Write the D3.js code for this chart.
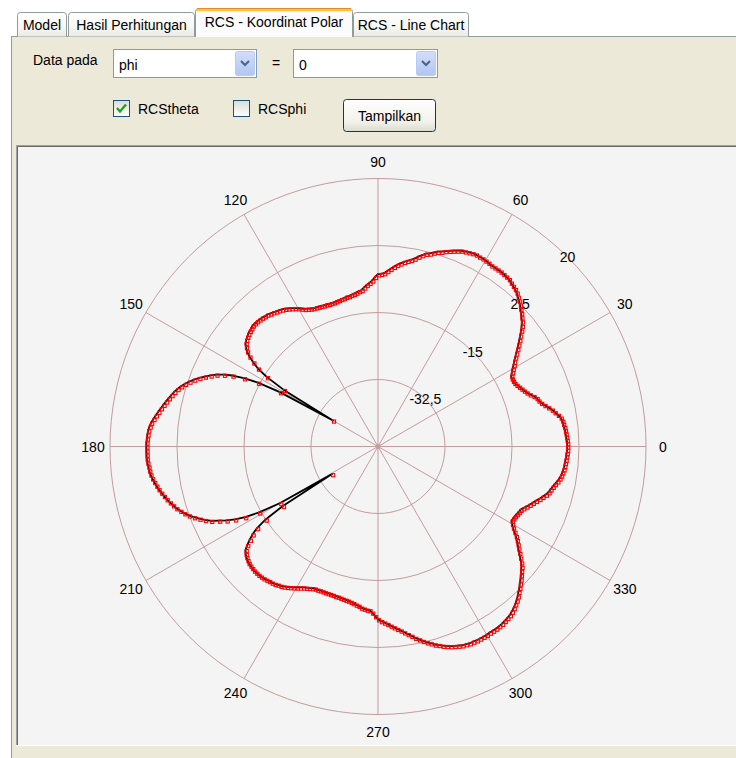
<!DOCTYPE html>
<html>
<head>
<meta charset="utf-8">
<script src="https://cdn.jsdelivr.net/npm/d3@7/dist/d3.min.js"></script>
<style>
  html, body { margin: 0; padding: 0; background: #ffffff; overflow: hidden; }
  svg { display: block; font-family: "Liberation Sans", Arial, sans-serif; }
</style>
</head>
<body>
<svg id="app" width="736" height="758"></svg>
<script>
// ---- data -------------------------------------------------------------
const tabNames = ["Model", "Hasil Perhitungan", "RCS - Koordinat Polar", "RCS - Line Chart"];
const activeTab = 2;
const dataAxisOptions = ["phi"];
const dataAxisValue = ["0"];
const seriesNames = ["RCStheta", "RCSphi"];
const seriesChecked = [true, false];

// observation angle phi (degrees), one sample per degree
const phiDeg = d3.range(0, 360);
// RCS theta-polarisation (dB) for each phi sample
const rcsTheta = [
  -0.6, -0.6, -0.7, -0.8, -0.9, -1.0, -1.1, -1.3, -1.4, -1.7,
  -2.3, -3.0, -3.6, -4.4, -5.2, -5.9, -6.4, -6.7, -7.3, -8.1,
  -8.7, -9.2, -9.6, -10.0, -10.4, -10.7, -10.8, -10.8, -10.6, -10.0,
  -9.4, -8.7, -8.1, -7.3, -6.5, -5.6, -4.7, -3.8, -2.9, -1.9,
  -1.0, -0.2, 0.4, 1.1, 1.7, 2.4, 3.0, 3.5, 4.1, 4.5,
  4.8, 5.1, 5.5, 5.6, 5.7, 5.8, 5.8, 5.8, 5.8, 6.0,
  6.1, 6.2, 6.2, 6.3, 6.2, 6.0, 5.8, 5.6, 5.2, 4.8,
  4.4, 4.0, 3.5, 3.2, 2.7, 2.2, 1.9, 1.3, 0.7, 0.0,
  -0.5, -0.9, -1.3, -1.8, -2.3, -2.9, -3.5, -4.1, -4.7, -4.9,
  -5.0, -5.7, -6.6, -7.2, -7.7, -8.3, -8.9, -9.1, -9.4, -9.6,
  -9.8, -10.0, -10.0, -10.2, -10.3, -10.4, -10.5, -10.6, -10.6, -10.6,
  -10.5, -10.5, -10.4, -10.3, -10.2, -10.1, -9.9, -9.6, -9.3, -8.8,
  -8.3, -7.8, -7.4, -7.0, -6.6, -6.3, -6.0, -5.8, -5.5, -5.3,
  -5.0, -4.9, -4.7, -4.6, -4.5, -4.5, -4.5, -4.7, -4.9, -5.1,
  -5.4, -5.7, -6.1, -6.8, -7.7, -9.0, -10.7, -12.6, -15.8, -21.3,
  -36.4, -20.7, -14.5, -10.7, -7.7, -5.6, -3.8, -2.5, -1.2, 0.0,
  1.1, 2.1, 3.0, 3.8, 4.5, 5.1, 5.6, 6.1, 6.6, 7.1,
  7.6, 8.1, 8.6, 9.1, 9.6, 9.9, 10.2, 10.3, 10.4, 10.5,
  10.5, 10.5, 10.5, 10.5, 10.4, 10.2, 10.1, 9.9, 9.6, 9.2,
  8.8, 8.4, 7.9, 7.4, 6.9, 6.3, 5.7, 5.1, 4.3, 3.5,
  2.6, 1.5, 0.3, -0.9, -2.3, -4.2, -6.0, -8.1, -10.7, -14.5,
  -20.5, -36.0, -20.7, -15.0, -11.9, -10.0, -8.6, -7.2, -6.1, -5.5,
  -5.1, -4.8, -4.5, -4.4, -4.3, -4.2, -4.2, -4.2, -4.3, -4.4,
  -4.6, -4.8, -4.9, -5.1, -5.4, -5.6, -5.9, -6.3, -6.7, -7.1,
  -7.5, -7.9, -8.3, -8.6, -8.9, -9.2, -9.4, -9.4, -9.5, -9.5,
  -9.5, -9.5, -9.5, -9.5, -9.4, -9.4, -9.3, -9.2, -9.1, -9.0,
  -8.8, -8.6, -8.3, -8.1, -7.7, -7.5, -7.3, -7.2, -6.6, -5.7,
  -4.9, -4.4, -4.0, -3.6, -3.1, -2.6, -2.1, -1.6, -1.0, -0.4,
  0.2, 0.9, 1.5, 2.1, 2.7, 3.2, 3.8, 4.2, 4.7, 5.1,
  5.5, 5.8, 6.1, 6.4, 6.5, 6.7, 6.7, 6.8, 6.8, 6.8,
  6.8, 6.7, 6.7, 6.7, 6.6, 6.5, 6.3, 6.1, 5.9, 5.5,
  5.1, 4.6, 4.1, 3.5, 2.8, 2.2, 1.5, 0.9, 0.2, -0.5,
  -1.1, -1.9, -2.9, -3.8, -4.7, -5.5, -6.3, -7.1, -8.0, -8.9,
  -9.6, -10.1, -10.0, -9.9, -9.7, -9.5, -9.3, -8.8, -8.2, -7.6,
  -7.0, -6.4, -5.7, -5.1, -4.4, -3.9, -3.6, -3.2, -2.8, -2.3,
  -1.9, -1.6, -1.4, -1.2, -1.1, -1.0, -0.9, -0.8, -0.7, -0.6
];
// radial (dB) ring ticks and angular spoke ticks
const radialDomain = [-50, 20];
const radialTicks = [-32.5, -15, 2.5, 20];
const angleTicks = [0, 30, 60, 90, 120, 150, 180, 210, 240, 270, 300, 330];

// ---- window chrome ----------------------------------------------------
const svg = d3.select("#app");
const defs = svg.append("defs");

function vGrad(id, stops) {
  const g = defs.append("linearGradient").attr("id", id)
    .attr("x1", 0).attr("y1", 0).attr("x2", 0).attr("y2", 1);
  stops.forEach(([o, c]) => g.append("stop").attr("offset", o).attr("stop-color", c));
}
vGrad("tabGrad", [[0, "#ffffff"], [0.6, "#f7f7f3"], [1, "#ebeae4"]]);
vGrad("btnGrad", [[0, "#ffffff"], [0.7, "#f2f1ea"], [1, "#dcdad0"]]);
vGrad("drop", [[0, "#d3def9"], [1, "#b1c6f4"]]);
vGrad("chk", [[0, "#dcdcd6"], [1, "#ffffff"]]);

const font = 14;

// tab page
svg.append("rect").attr("x", 11.5).attr("y", 36.5).attr("width", 760).attr("height", 760)
  .attr("fill", "#ece9d8").attr("stroke", "#919b9c");

// tab headers
const tabBounds = [[17, 67], [68, 195], [195, 353], [353, 469]];
tabNames.forEach((name, i) => {
  const [x0, x1] = tabBounds[i];
  const active = i === activeTab;
  const top = active ? 8.5 : 12.5;
  const bottom = active ? 37 : 36.5;
  const r = 3;
  const g = svg.append("g");
  g.append("path")
    .attr("d", `M${x0 + 0.5},${bottom} V${top + r} Q${x0 + 0.5},${top} ${x0 + 0.5 + r},${top} H${x1 - 0.5 - r} Q${x1 - 0.5},${top} ${x1 - 0.5},${top + r} V${bottom}`)
    .attr("fill", active ? "#fcfcfe" : "url(#tabGrad)")
    .attr("stroke", "#919b9c");
  if (active) {
    g.append("path").attr("d", `M${x0 + 2},${top} H${x1 - 2}`).attr("stroke", "#e68b2c").attr("stroke-width", 1.2);
    g.append("rect").attr("x", x0 + 1).attr("y", top + 0.5).attr("width", x1 - x0 - 2).attr("height", 2.2)
      .attr("fill", "#ffc73c");
  }
  g.append("text").attr("x", (x0 + x1) / 2).attr("y", active ? 26.5 : 29.5)
    .attr("text-anchor", "middle").attr("font-size", font).attr("fill", "#000").text(name);
});

// data selector row
svg.append("text").attr("x", 33).attr("y", 65).attr("font-size", font).text("Data pada");

function combo(x, w, value) {
  const g = svg.append("g");
  g.append("rect").attr("x", x + 0.5).attr("y", 49.5).attr("width", w).attr("height", 28)
    .attr("fill", "#ffffff").attr("stroke", "#7f9db9");
  g.append("text").attr("x", x + 6).attr("y", 70).attr("font-size", font).text(value);
  const bx = x + w - 21;
  g.append("rect").attr("x", bx + 0.5).attr("y", 51.5).attr("width", 19).attr("height", 24)
    .attr("rx", 2).attr("fill", "url(#drop)").attr("stroke", "#b9cbf3");
  g.append("path").attr("d", `M${bx + 6},${61} L${bx + 10},${65} L${bx + 14},${61}`)
    .attr("fill", "none").attr("stroke", "#4d6185").attr("stroke-width", 2);
}
combo(113, 143, dataAxisOptions[0]);
svg.append("text").attr("x", 276).attr("y", 68).attr("text-anchor", "middle").attr("font-size", font).text("=");
combo(293, 144, dataAxisValue[0]);

// series check boxes
const checkX = [113, 233];
seriesNames.forEach((name, i) => {
  const x = checkX[i];
  svg.append("rect").attr("x", x + 0.5).attr("y", 100.5).attr("width", 16).attr("height", 16)
    .attr("fill", "url(#chk)").attr("stroke", "#1c5180");
  if (seriesChecked[i]) {
    svg.append("path").attr("d", `M${x + 4},${108} L${x + 7},${111.5} L${x + 13},${104.5}`)
      .attr("fill", "none").attr("stroke", "#21a121").attr("stroke-width", 2.4);
  }
  svg.append("text").attr("x", x + 25).attr("y", 114).attr("font-size", font).text(name);
});

// "Tampilkan" button
svg.append("rect").attr("x", 343.5).attr("y", 99.5).attr("width", 92).attr("height", 32)
  .attr("rx", 3).attr("fill", "url(#btnGrad)").attr("stroke", "#003c74");
svg.append("text").attr("x", 389.5).attr("y", 121).attr("text-anchor", "middle")
  .attr("font-size", font).text("Tampilkan");

// plot panel with sunken frame
svg.append("rect").attr("x", 16.5).attr("y", 145.5).attr("width", 740).attr("height", 600)
  .attr("fill", "#f4f4f4").attr("stroke", "#a0a0a0");
svg.append("path").attr("d", "M17.5,745 V146.5 H760").attr("fill", "none").attr("stroke", "#696969");
svg.append("path").attr("d", "M16,745.5 H760").attr("stroke", "#ffffff");

// ---- polar chart ------------------------------------------------------
const cx = 378, cy = 446.5, R = 268;
const rScale = d3.scaleLinear().domain(radialDomain).range([0, R]);
const toRad = d => (90 - d) * Math.PI / 180;   // math angle -> d3 radial angle
const gridColor = "#c49c9c";
const chart = svg.append("g").attr("transform", `translate(${cx},${cy})`);

// rings
chart.append("g").selectAll("circle").data(radialTicks).join("circle")
  .attr("r", d => rScale(d)).attr("fill", "none").attr("stroke", gridColor).attr("stroke-width", 1);

// spokes
chart.append("g").selectAll("line").data(angleTicks).join("line")
  .attr("x1", 0).attr("y1", 0)
  .attr("x2", d => d3.pointRadial(toRad(d), R)[0])
  .attr("y2", d => d3.pointRadial(toRad(d), R)[1])
  .attr("stroke", gridColor).attr("stroke-width", 1);

chart.append("circle").attr("r", 2.5).attr("fill", gridColor);

// angular labels
chart.append("g").selectAll("text").data(angleTicks).join("text")
  .attr("x", d => d3.pointRadial(toRad(d), R + 17)[0])
  .attr("y", d => d3.pointRadial(toRad(d), R + 17)[1])
  .attr("text-anchor", "middle").attr("dominant-baseline", "central")
  .attr("font-size", font).attr("fill", "#000").text(d => d);

// radial labels along 45 degrees, decimal comma
const fmt = d => String(d).replace(".", ",");
chart.append("g").selectAll("text").data(radialTicks).join("text")
  .attr("x", d => d3.pointRadial(toRad(45), rScale(d))[0])
  .attr("y", d => d3.pointRadial(toRad(45), rScale(d))[1])
  .attr("text-anchor", "middle").attr("dominant-baseline", "central")
  .attr("font-size", font).attr("fill", "#000").text(fmt);

// RCS trace
const series = phiDeg.map((p, i) => ({ phi: p, v: rcsTheta[i] }));
const line = d3.lineRadial()
  .angle(d => toRad(d.phi))
  .radius(d => rScale(d.v))
  .curve(d3.curveLinearClosed);

chart.append("path").datum(series).attr("d", line)
  .attr("fill", "none").attr("stroke", "#000").attr("stroke-width", 1.8)
  .attr("stroke-linejoin", "round");

chart.append("g").selectAll("rect").data(series).join("rect")
  .attr("x", d => d3.pointRadial(toRad(d.phi), rScale(d.v))[0] - 0.5)
  .attr("y", d => d3.pointRadial(toRad(d.phi), rScale(d.v))[1] - 0.5)
  .attr("width", 3.2).attr("height", 3.2)
  .attr("fill", "none").attr("stroke", "#ff0000").attr("stroke-width", 1.1);
</script>
</body>
</html>
